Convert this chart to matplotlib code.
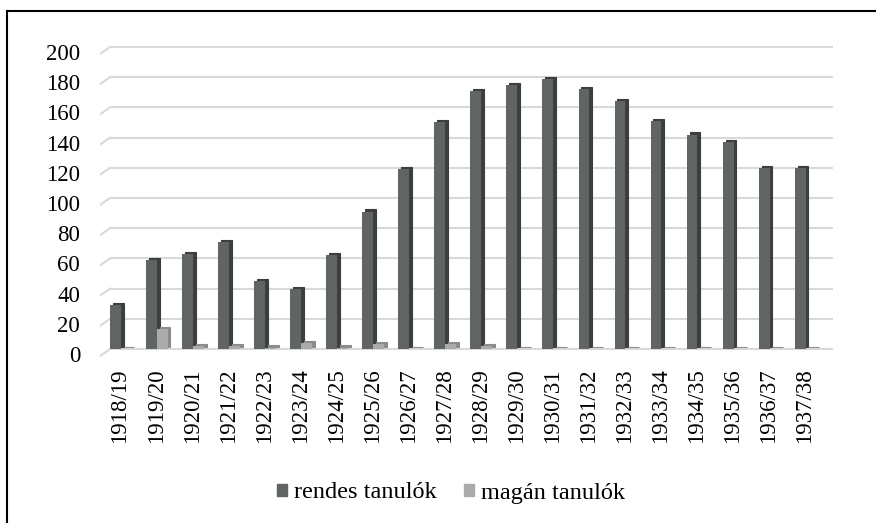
import matplotlib.pyplot as plt
import matplotlib.transforms as mtransforms
from matplotlib.patches import Patch
from matplotlib.lines import Line2D

# Adatok
years = ['1918/19', '1919/20', '1920/21', '1921/22', '1922/23', '1923/24', '1924/25',
         '1925/26', '1926/27', '1927/28', '1928/29', '1929/30', '1930/31', '1931/32',
         '1932/33', '1933/34', '1934/35', '1935/36', '1936/37', '1937/38']
rendes = [29, 59, 63, 71, 45, 40, 62, 91, 119, 150, 171, 175, 179, 172, 164, 151, 142, 137, 120, 120]
magan = [0, 13, 2, 2, 1, 4, 1, 3, 0, 3, 2, 0, 0, 0, 0, 0, 0, 0, 0, 0]
yticks = [0, 20, 40, 60, 80, 100, 120, 140, 160, 180, 200]

plt.rcParams['font.family'] = 'serif'
plt.rcParams['font.serif'] = ['Liberation Serif', 'Times New Roman', 'DejaVu Serif']

dark_front, dark_side = '#606464', '#3b3f3f'
light_front, light_side = '#aaacac', '#8b8d8d'

fig = plt.figure(figsize=(8.76, 5.23), dpi=100)
ax = fig.add_axes([0.11416, 0.3182, 0.83676, 0.6064])

x = list(range(len(years)))
w = 0.3
dx, dz = 0.08, 1.4

# "3D" hatso lap + grid
x_back, x_front, x_end = -0.277, -0.555, 19.78
for v in yticks:
    ax.plot([x_front, x_back], [v - 4.6, v], color='#d9d9d9', lw=1.5, zorder=1)
ax.hlines(yticks, x_back, x_end, color='#d9d9d9', lw=1.5, zorder=1)

# oszlopok: oldallap + elolap
ax.bar([i - 0.13 + dx for i in x], rendes, width=w, bottom=dz, color=dark_side,
       edgecolor=dark_side, lw=0.8, zorder=2)
ax.bar([i - 0.13 for i in x], rendes, width=w, color=dark_front, zorder=3)
ax.bar([i + 0.17 + dx for i in x], magan, width=w, bottom=dz, color=light_side,
       edgecolor=light_side, lw=0.8, zorder=4)
ax.bar([i + 0.17 for i in x], magan, width=w, color=light_front, zorder=5)

ax.set_xlim(x_front, x_end)
ax.set_ylim(-5, 205)
ax.set_yticks(yticks)
ax.set_yticklabels([str(v) for v in yticks], fontsize=16.5)
ax.set_xticks(x)
ax.set_xticklabels(years, rotation=90, fontsize=16.5)
ax.tick_params(axis='y', length=0, pad=14.4)
ax.tick_params(axis='x', length=0, pad=8.5)
offset = mtransforms.ScaledTranslation(0, -5 / 100, fig.dpi_scale_trans)
for lab in ax.get_yticklabels():
    lab.set_transform(lab.get_transform() + offset)
for s in ax.spines.values():
    s.set_visible(False)

# Legenda
handles = [Patch(color=dark_front), Patch(color=light_front)]
fig.legend(handles, ['rendes tanulók', 'magán tanulók'], loc='center',
           bbox_to_anchor=(0.515, 1 - 493 / 523), ncol=2, frameon=False,
           fontsize=17.5, handlelength=0.4, handleheight=0.4,
           handletextpad=0.3, columnspacing=1.1)

# keret
fig.add_artist(Line2D([0.0085, 1.0], [1 - 11 / 523] * 2, color='black', lw=1.5))
fig.add_artist(Line2D([0.0085, 0.0085], [0, 1 - 11 / 523], color='black', lw=1.5))

fig.savefig('out.png', dpi=100)
